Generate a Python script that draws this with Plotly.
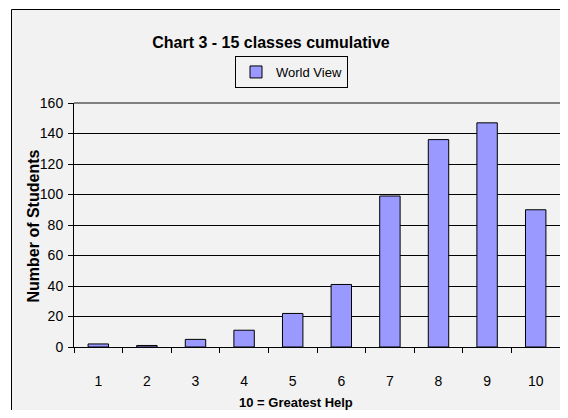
import plotly.graph_objects as go

# ratings 1..10 and number of students
ratings = ["1", "2", "3", "4", "5", "6", "7", "8", "9", "10"]
students = [2, 1, 5, 11, 22, 41, 99, 136, 147, 90]
y_ticks = [0, 20, 40, 60, 80, 100, 120, 140, 160]

arial = "Liberation Sans, Arial, sans-serif"

# the page body adds an 8px margin, so the figure is kept small enough not to scroll
W, H = 552, 402
L, T, B = 66, 95, 63
PW, PH = W - L, H - T - B


def px(x):
    return (x - L) / PW


def py(y):
    return 1 - (y - T) / PH


fig = go.Figure()
fig.add_trace(go.Bar(
    x=ratings, y=students, name="World View",
    marker=dict(color="#9999ff", line=dict(color="#000000", width=1)),
))

fig.update_layout(
    width=W, height=H,
    margin=dict(l=L, r=0, t=T, b=B),
    paper_bgcolor="#ffffff",
    plot_bgcolor="#c0c0c0",
    bargap=0.58,
    showlegend=True,
    font=dict(family=arial, size=14, color="#000000"),
    title=dict(text="<b>Chart 3 - 15 classes cumulative</b>",
               x=263 / W, xanchor="center", y=1 - 34 / H, yanchor="middle",
               font=dict(family=arial, size=16)),
    legend=dict(x=px(283.5), xanchor="center", y=py(64), yanchor="middle",
                orientation="h",
                bgcolor="#f2f2f2", bordercolor="#000000", borderwidth=1,
                font=dict(family=arial, size=13),
                itemwidth=30),
)

fig.update_xaxes(
    type="category", tickson="boundaries", ticks="outside", ticklen=5,
    tickcolor="#000000", showline=True, linecolor="#000000", linewidth=1,
    showgrid=False, automargin=False, ticklabelstandoff=21,
    tickfont=dict(family=arial, size=14),
)
fig.update_yaxes(
    range=[0, 160], tickvals=y_ticks, ticks="outside", ticklen=5,
    tickcolor="#000000", showline=True, linecolor="#000000", linewidth=1,
    showgrid=True, gridcolor="#000000", gridwidth=1, zeroline=False,
    automargin=False, ticklabelstandoff=2,
    tickfont=dict(family=arial, size=14),
)

# axis titles
fig.add_annotation(text="<b>10 = Greatest Help</b>", xref="paper", yref="paper",
                   x=px(288), y=py(394), xanchor="center", yanchor="middle",
                   showarrow=False, font=dict(family=arial, size=13))
fig.add_annotation(text="<b>Number of Students</b>", xref="paper", yref="paper",
                   x=px(24.5), y=py(218), xanchor="center", yanchor="middle",
                   showarrow=False, textangle=-90,
                   font=dict(family=arial, size=16))

# top edge of plot area and the outer chart frame
fig.add_shape(type="line", xref="paper", yref="paper", x0=0, x1=1, y0=1, y1=1,
              line=dict(color="#808080", width=2))
fig.add_shape(type="rect", xref="paper", yref="paper",
              x0=px(3.5), x1=px(W + 20), y0=py(1.5), y1=py(H + 20),
              fillcolor="#f2f2f2", line=dict(color="#000000", width=1),
              layer="below")

fig.write_html("out.html")
